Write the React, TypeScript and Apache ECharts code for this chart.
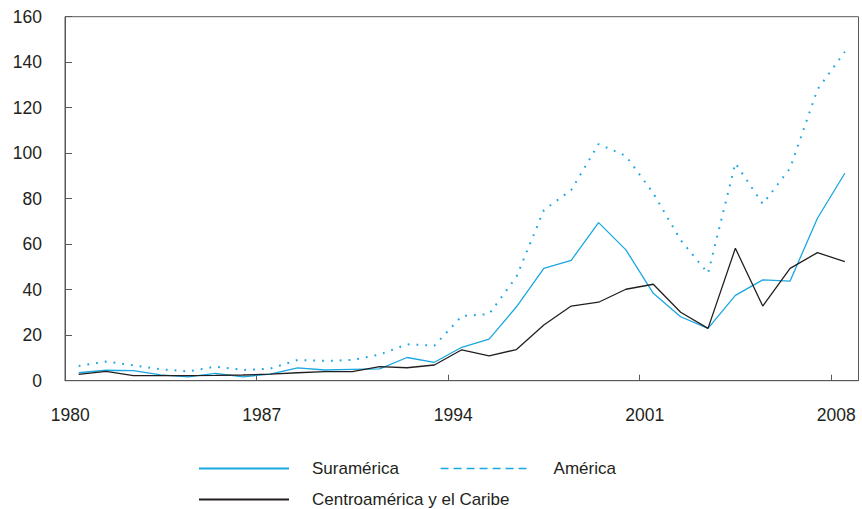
import React, { useEffect, useRef } from "react";
import * as echarts from "echarts";

const years = [
  "1980", "1981", "1982", "1983", "1984", "1985", "1986", "1987", "1988", "1989",
  "1990", "1991", "1992", "1993", "1994", "1995", "1996", "1997", "1998", "1999",
  "2000", "2001", "2002", "2003", "2004", "2005", "2006", "2007", "2008",
];

const suramerica = [
  3.5, 4.6, 4.4, 2.6, 1.7, 3.2, 1.7, 2.9, 5.6, 4.7,
  5.0, 5.2, 10.2, 8.1, 14.7, 18.3, 32.5, 49.4, 52.9, 69.5,
  57.5, 38.4, 28.1, 23.0, 37.5, 44.3, 43.8, 71.4, 91.2,
];

const america = [
  6.5, 8.4, 6.8, 5.0, 4.1, 6.2, 4.7, 5.3, 9.1, 8.7,
  9.1, 11.5, 16.0, 15.4, 28.4, 29.3, 45.7, 75.0, 83.8, 104.0,
  98.8, 82.4, 61.8, 47.2, 95.6, 77.7, 93.4, 128.0, 144.6,
];

const centroamerica = [
  2.8, 4.1, 2.2, 2.2, 2.2, 2.3, 2.5, 2.9, 3.5, 4.0,
  4.0, 6.2, 5.7, 6.9, 13.6, 10.9, 13.7, 24.5, 32.8, 34.5,
  40.2, 42.4, 30.1, 23.0, 58.2, 32.8, 49.4, 56.3, 52.3,
];

const yTicks = { min: 0, max: 160, interval: 20 };

const BLUE = "#1aa7e2";
const BLACK = "#231f20";
const FRAME = "#595959";
const FONT = "'Liberation Sans Narrow', 'Arial Narrow', 'Liberation Sans', Arial, sans-serif";

export default function App() {
  const ref = useRef<HTMLDivElement>(null);

  useEffect(() => {
    if (!ref.current) return;
    const chart = echarts.init(ref.current, null, { renderer: "svg" });
    const axisText = { fontFamily: FONT, fontSize: 17.5, color: BLACK };
    const legendText = { fontFamily: FONT, fontSize: 17, color: BLACK, lineHeight: 16, padding: [0, 0, 0, 18] };
    const legendBase = {
      orient: "horizontal",
      padding: 0,
      itemWidth: 90,
      itemHeight: 14,
      itemStyle: { color: "transparent", borderWidth: 0, opacity: 0 },
      textStyle: legendText,
    };
    chart.setOption({
      animation: false,
      backgroundColor: "#ffffff",
      textStyle: { fontFamily: FONT },
      grid: {
        left: 65,
        right: 3.5,
        top: 16.7,
        bottom: 128.3,
        show: true,
        borderColor: FRAME,
        borderWidth: 1,
        outerBoundsMode: "none",
      },
      xAxis: {
        type: "category",
        data: years,
        boundaryGap: true,
        axisLine: { show: true, lineStyle: { color: FRAME, width: 1 } },
        axisTick: { show: true, inside: true, length: 6, interval: 6, lineStyle: { color: FRAME } },
        axisLabel: { interval: 6, margin: 25, padding: [0, 17, 0, 0], ...axisText },
        splitLine: { show: false },
      },
      yAxis: {
        type: "value",
        min: yTicks.min,
        max: yTicks.max,
        interval: yTicks.interval,
        axisLine: { show: true, lineStyle: { color: FRAME, width: 1 } },
        axisTick: { show: true, inside: true, length: 7, lineStyle: { color: FRAME } },
        axisLabel: { margin: 23, ...axisText },
        splitLine: { show: false },
      },
      legend: [
        {
          ...legendBase,
          left: 198,
          top: 460,
          itemGap: 41,
          data: [
            { name: "Suramérica" },
            { name: "América", lineStyle: { type: [8, 5], width: 1.3, color: BLUE } },
          ],
        },
        {
          ...legendBase,
          left: 198,
          top: 491,
          data: [{ name: "Centroamérica y el Caribe" }],
        },
      ],
      series: [
        {
          name: "Suramérica",
          type: "line",
          data: suramerica,
          symbol: "none",
          lineStyle: { color: BLUE, width: 1.3 },
          itemStyle: { color: BLUE },
        },
        {
          name: "América",
          type: "line",
          data: america,
          symbol: "none",
          lineStyle: { color: BLUE, width: 2, type: [1.8, 7] },
          itemStyle: { color: BLUE },
        },
        {
          name: "Centroamérica y el Caribe",
          type: "line",
          data: centroamerica,
          symbol: "none",
          lineStyle: { color: BLACK, width: 1.3 },
          itemStyle: { color: BLACK },
        },
      ],
    });
    return () => chart.dispose();
  }, []);

  return (
    <div
      ref={ref}
      style={{ position: "fixed", left: 0, top: 0, width: 862, height: 509, background: "#fff" }}
    />
  );
}
